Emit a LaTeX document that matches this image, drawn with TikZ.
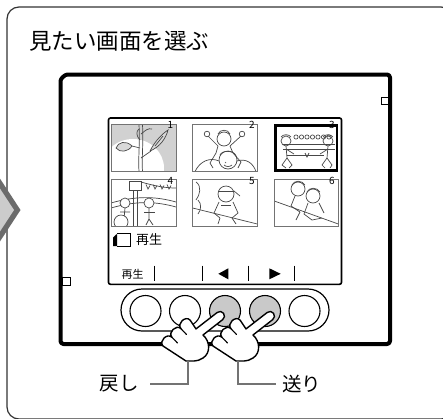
\documentclass[tikz,border=0pt]{standalone}
\usepackage{fontspec}
\setmainfont{Noto Sans CJK JP}
\usetikzlibrary{calc}

\tikzset{
  frameline/.style={draw=black!80, line width=1.2pt},
  bodyline/.style={draw=black, line width=4pt, line join=round},
  screenline/.style={draw=black, line width=1.6pt, rounded corners=2pt},
  thumb/.style={draw=black!55, line width=0.9pt},
  thumbsel/.style={draw=black, line width=2.7pt},
  sketch/.style={draw=black!72, line width=0.7pt},
  num/.style={inner sep=0pt, font=\fontsize{10}{11}\selectfont},
  btn/.style={circle, draw=black, line width=1.1pt, fill=white, minimum size=31pt, inner sep=0pt},
  btnon/.style={btn, fill=black!21},
  bar/.style={draw=black, line width=1.1pt},
  hand/.style={draw=black, line width=1.4pt, fill=white, line join=round},
  handline/.style={draw=black, line width=1.1pt, line cap=round},
  leader/.style={draw=black!55, line width=1.9pt},
  lbl/.style={inner sep=0pt, font=\fontsize{19.5}{22}\selectfont},
  pointer/.pic={
    % fist with curled fingers, index finger pointing up-right (origin = fingertip)
    \path[hand] (-57,30) .. controls (-61.6,25.2) and (-52.6,16.5) .. (-48,21.3)
      .. controls (-52.6,16.5) and (-43.6,7.9) .. (-39,12.7)
      .. controls (-43.6,7.9) and (-34.6,-0.8) .. (-30,4)
      -- (-24,12.9) -- (-2.7,-3.6)
      .. controls (-0.74,-5.11) and (2.04,-4.71) .. (3.55,-2.75)
      .. controls (5.06,-0.79) and (4.66,2.09) .. (2.7,3.6)
      -- (-17,19)
      .. controls (-10,25) and (-9,37) .. (-17,42)
      .. controls (-20,44) and (-23,45) .. (-26,45)
      -- (-34,45) -- cycle;
    \draw[handline] (-48,21.3) -- (-42.5,27);
    \draw[handline] (-39,12.7) -- (-33.5,18.5);
    \coordinate (-wrist) at (-32,45);
  }
}

\begin{document}
\begin{tikzpicture}[x=1pt,y=-1pt]
\useasboundingbox (0,0) rectangle (443,418);
\clip (0,0) rectangle (443,418);
\fill[white] (0,0) rectangle (443,418);

% outer panel
\draw[frameline, rounded corners=12pt] (7,7) rectangle (453,419);

% step chevron on the left edge
\fill[black!58] (20.5,210) -- (-20,148) -- (-60,210) -- (-20,272) -- cycle;
\fill[black!20] (14,210) -- (-20,158) -- (-54,210) -- (-20,262) -- cycle;

% title
\node[inner sep=0pt, anchor=west, font=\fontsize{22.5}{26}\selectfont] (title) at (29,41) {見たい画面を選ぶ};

% camera back
\draw[bodyline, rounded corners=3pt] (225,344) -- (60.5,344) -- (60.5,84)
  .. controls (60.5,78.5) and (65,74.5) .. (70.5,74.5) -- (390,74.5) -- (390,344) -- cycle;
\draw[black, line width=0.8pt, fill=white] (381,97) rectangle (388.5,104);
\draw[black, line width=0.8pt, fill=white] (62.5,277.5) rectangle (70,285);

% LCD screen
\draw[screenline, fill=white] (108.5,118) rectangle (341.5,284.3);

% thumbnail 1
\begin{scope}
  \clip (111,124.5) rectangle (176,171.5);
  \fill[black!18] (111,124.5) rectangle (176,171.5);
  \fill[white] (133,168) ellipse [x radius=31, y radius=29];
  \draw[sketch] (139,124.5) .. controls (140,145) and (138,160) .. (139,171.5);
  \draw[sketch] (142.5,124.5) .. controls (143.5,145) and (141.5,160) .. (142.5,171.5);
  \draw[sketch] (141,158) -- (151,151);
  \draw[sketch, fill=black!15] (150,151) .. controls (155,141) and (162,134) .. (168,130) .. controls (166,138) and (160,147) .. (150,151);
  \draw[sketch] (155,146) -- (163,136);
  \draw[sketch] (140,148) -- (132,146);
  \draw[sketch, fill=black!15] (132,146) .. controls (126,140) and (118,142) .. (116,148) .. controls (120,153) and (128,152) .. (132,146);
  \draw[sketch] (141,134) .. controls (146,130) and (148,128) .. (152,129);
  \draw[sketch] (140,140) .. controls (136,136) and (136,131) .. (139,129);
\end{scope}
\draw[thumb] (111,124.5) rectangle (176,171.5);

% thumbnail 2
\begin{scope}
  \clip (192.7,124.5) rectangle (257.3,171.5);
  \draw[sketch] (224,139) circle [radius=7];
  \draw[sketch] (218,134) .. controls (220,129) and (228,129) .. (230,134);
  \draw[sketch] (218,146) -- (208,136);
  \draw[sketch] (230,146) -- (241,136);
  \draw[sketch] (207,134) circle [radius=2.8];
  \draw[sketch] (242,134) circle [radius=2.8];
  \draw[sketch] (218,146) -- (216,153) -- (210,163) -- (213,168);
  \draw[sketch] (230,146) -- (233,153) -- (241,162) -- (238,168);
  \draw[sketch] (228,160) circle [radius=9];
  \draw[sketch] (220,155) .. controls (222,150) and (234,150) .. (236,156);
  \draw[sketch] (195,171.5) .. controls (200,161) and (210,157) .. (219,161);
  \draw[sketch] (237,161) .. controls (246,158) and (253,163) .. (256,171.5);
  \draw[sketch] (225,162) -- (226,163);
  \draw[sketch] (224,165) .. controls (226,167) and (230,167) .. (232,165);
\end{scope}
\draw[thumb] (192.7,124.5) rectangle (257.3,171.5);

% thumbnail 3 (selected)
\begin{scope}
  \clip (275.7,125.8) rectangle (337,170.2);
  \foreach \i in {0,...,6} { \draw[sketch] (296+5.5*\i,137) circle [radius=2.1]; }
  \draw[sketch] (283,144) -- (335,144);
  \draw[sketch] (283,149) -- (335,149);
  \draw[sketch] (287,155) -- (324,155);
  \draw[sketch] (305,153) -- (307,157) -- (309,153);
  \draw[sketch] (286,141) circle [radius=5];
  \draw[sketch] (281,137) .. controls (283,134) and (289,134) .. (291,137);
  \draw[sketch] (286,146) -- (287,158) -- (282,165) -- (286,168);
  \draw[sketch] (287,158) -- (292,165) -- (289,168);
  \draw[sketch] (286,149) -- (294,154);
  \draw[sketch] (328,141) circle [radius=5];
  \draw[sketch] (323,137) .. controls (325,134) and (331,134) .. (333,137);
  \draw[sketch] (328,146) -- (327,158) -- (322,165) -- (325,168);
  \draw[sketch] (327,158) -- (332,165) -- (330,168);
  \draw[sketch] (328,149) -- (320,154);
\end{scope}
\draw[thumbsel] (275.7,125.8) rectangle (337,170.2);

% thumbnail 4
\begin{scope}
  \clip (111,179.3) rectangle (176,226);
  \draw[sketch] (133.5,189) -- (133.5,226);
  \draw[sketch] (137,189) -- (137,226);
  \draw[sketch, fill=white] (129,181) rectangle (141,190);
  \draw[sketch] (141,182) .. controls (155,186) and (165,188) .. (176,188);
  \foreach \x in {146,153,160,167} { \draw[sketch] (\x,184.5) -- (\x+2,189) -- (\x+4,185.5); }
  \draw[sketch] (111,203) .. controls (135,196) and (155,196) .. (176,202);
  \draw[sketch] (111,208) .. controls (135,201) and (155,201) .. (176,207);
  \draw[sketch, fill=white] (125,203) circle [radius=5];
  \draw[sketch] (125,208) -- (124,219) (120,212) -- (130,212);
  \draw[sketch, fill=white] (149,203) circle [radius=5];
  \draw[sketch] (149,208) -- (149,219) -- (146,225) (149,219) -- (153,225);
  \draw[sketch] (144,212) -- (155,212);
  \draw[sketch, fill=white] (121,222) circle [radius=7];
\end{scope}
\draw[thumb] (111,179.3) rectangle (176,226);

% thumbnail 5
\begin{scope}
  \clip (192.7,179.3) rectangle (257.3,226);
  \draw[sketch] (226,194) circle [radius=8];
  \draw[sketch] (218,191) -- (234,191);
  \draw[sketch] (234,191) -- (240,196);
  \draw[sketch] (219,202) -- (214,213) -- (220,218);
  \draw[sketch] (233,202) -- (238,213) -- (232,218);
  \draw[sketch] (220,218) -- (218,224) (232,218) -- (236,224);
  \draw[sketch] (221,205) -- (231,205);
  \draw[sketch] (192.7,208) -- (257.3,224);
  \draw[sketch] (196,182) .. controls (202,186) and (200,195) .. (196,200);
  \draw[sketch] (198,200) .. controls (202,204) and (201,210) .. (198,214);
\end{scope}
\draw[thumb] (192.7,179.3) rectangle (257.3,226);

% thumbnail 6
\begin{scope}
  \clip (274.3,179.3) rectangle (338.3,226);
  \draw[sketch] (274.3,201) -- (338.3,224);
  \draw[sketch, fill=white] (298,189) circle [radius=7];
  \draw[sketch] (292,185) .. controls (294,180) and (302,180) .. (305,185);
  \draw[sketch, fill=white] (313,196) circle [radius=7];
  \draw[sketch] (307,192) .. controls (309,187) and (317,187) .. (320,192);
  \draw[sketch] (295,196) -- (291,206) -- (300,212);
  \draw[sketch] (308,203) -- (304,214) -- (312,220) -- (322,218);
  \draw[sketch] (319,203) -- (324,213);
  \draw[sketch] (300,212) -- (296,220);
\end{scope}
\draw[thumb] (274.3,179.3) rectangle (338.3,226);

% frame numbers
\node[num] (n1) at (170.5,125) {1};
\node[num] (n2) at (252,124.5) {2};
\node[num] (n3) at (332,125) {3};
\node[num] (n4) at (170.5,180.5) {4};
\node[num] (n5) at (252,180.5) {5};
\node[num] (n6) at (332,180.5) {6};

% playback indicator
\fill[black] (113,237.5) -- (117,233.8) -- (117,246) -- (113,246) -- cycle;
\draw[black, line width=1pt] (117,233.8) -- (130,233.8) -- (130,246) -- (117,246);
\node[inner sep=0pt, anchor=west, font=\fontsize{13}{15}\selectfont] (play) at (136,240) {再生};

% soft-key labels
\node[inner sep=0pt, font=\fontsize{11}{13}\selectfont] (key1) at (132.5,274) {再生};
\foreach \x in {154.3,202.7,248.3,294.3} { \draw[bar] (\x,265.5) -- (\x,281); }
\fill[black] (218.3,273.8) -- (228.3,268.3) -- (228.3,279.3) -- cycle;
\fill[black] (280.7,273.8) -- (269.3,268.3) -- (269.3,279.3) -- cycle;

% button strip
\draw[black, line width=1.2pt, fill=white, rounded corners=21pt] (121,289) rectangle (329,331);
\node[btn]   (b1) at (145.5,311) {};
\node[btn]   (b2) at (185,311) {};
\node[btnon] (b3) at (225,311) {};
\node[btnon] (b4) at (265,311) {};
\node[btn]   (b5) at (304.5,311) {};

% pressing hands
\pic (h1) at (220,316) {pointer};
\pic (h2) at (270,316) {pointer};

% callouts
\node[lbl, anchor=east] (back) at (139,384) {戻し};
\node[lbl, anchor=west] (fwd) at (282,384) {送り};
\draw[leader] (h1-wrist) |- ([xshift=11pt]back.east);
\draw[leader] (h2-wrist) |- ([xshift=-6pt]fwd.west);
\end{tikzpicture}
\end{document}
